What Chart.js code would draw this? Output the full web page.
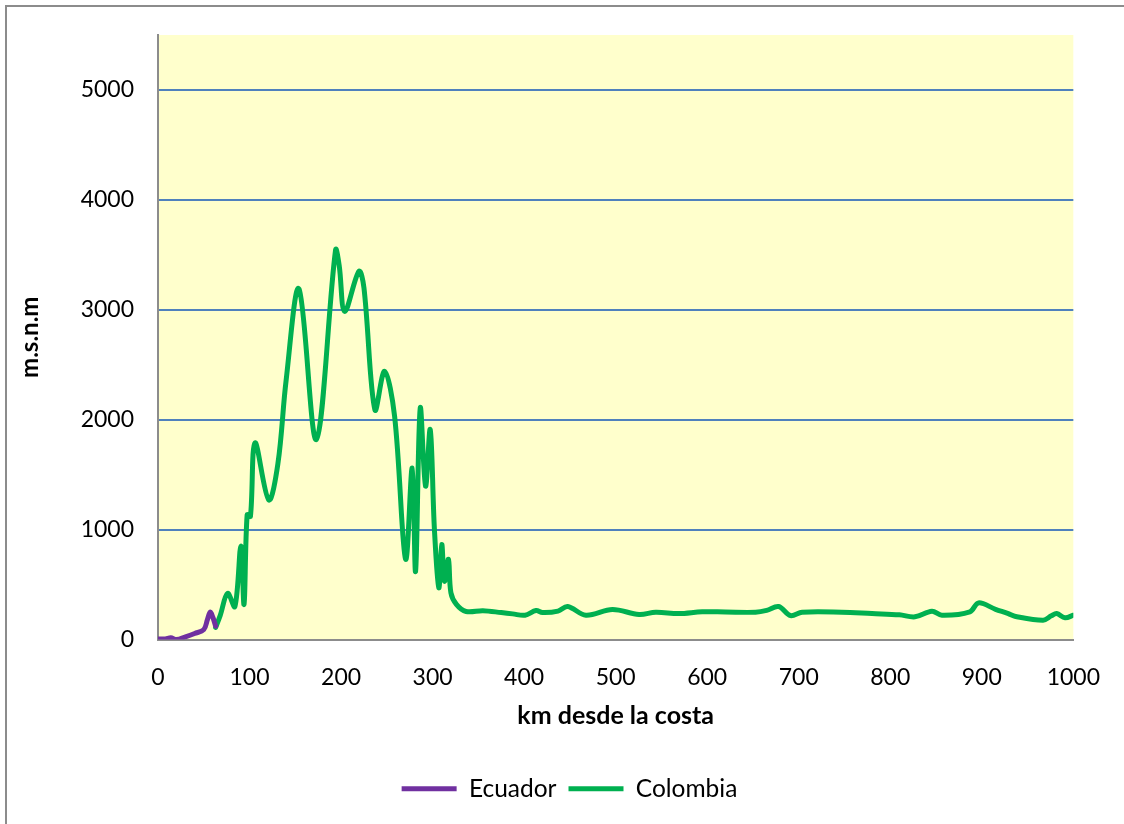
<!DOCTYPE html>
<html>
<head>
<meta charset="utf-8">
<script src="https://cdn.jsdelivr.net/npm/chart.js@4/dist/chart.umd.min.js"></script>
<style>
html,body{margin:0;padding:0;background:#fff;}
#wrap{position:relative;width:1124px;height:824px;overflow:hidden;}
#frame{position:absolute;left:5px;top:5px;width:1130px;height:830px;border:2px solid #8c8c8c;box-sizing:border-box;}
canvas{position:absolute;left:0;top:0;}
</style>
</head>
<body>
<div id="wrap">
<div id="frame"></div>
<canvas id="c" width="1124" height="824"></canvas>
</div>
<script>
const seriesNames = ["Ecuador", "Colombia"];
const ecuadorKm  = [0, 8, 14, 20, 30, 40, 50, 54, 57, 60, 63];
const ecuadorMsnm = [5, 5, 15, 0, 25, 55, 90, 180, 250, 200, 120];

const colombiaKm = [63, 68, 76, 84, 90.5, 94, 97.4, 101, 106, 121, 131, 140, 154, 173, 194, 198, 204, 219.5, 225, 237, 247.5, 258.5, 270.5, 277.7, 281.4, 286.5, 292.3, 297.4, 302, 306.8, 310, 313, 317.3, 320, 326, 336.6, 355, 375, 387.5, 401, 413, 420, 437, 447.5, 467.5, 496.5, 525.6, 543.8, 569, 594.6, 620, 652.8, 665, 678, 691, 703.7, 747, 780, 810, 827, 845.5, 856.4, 887, 896.4, 915, 929, 936, 967, 976, 981.8, 991, 1000];
const colombiaMsnm = [110, 220, 420, 300, 850, 320, 1135, 1120, 1790, 1270, 1600, 2360, 3190, 1820, 3545, 3400, 2985, 3350, 3200, 2090, 2440, 2030, 730, 1560, 620, 2105, 1395, 1910, 1000, 470, 865, 530, 730, 425, 320, 255, 262, 245, 233, 221, 264, 245, 258, 300, 221, 273, 227, 248, 236, 252, 250, 248, 265, 300, 218, 248, 248, 236, 225, 206, 258, 221, 252, 333, 275, 236, 212, 176, 215, 236, 197, 221];

const xTicks = [0, 100, 200, 300, 400, 500, 600, 700, 800, 900, 1000];
const yTicks = [0, 1000, 2000, 3000, 4000, 5000];

const FONT = "Lato, 'Open Sans', sans-serif";

const bgPlugin = {
  id: 'plotBg',
  beforeDraw(chart) {
    const a = chart.chartArea, ctx = chart.ctx;
    ctx.save();
    ctx.fillStyle = '#FFFFCC';
    ctx.fillRect(a.left, a.top, a.right - a.left, a.bottom - a.top);
    ctx.restore();
  }
};

const legendShift = {
  id: 'legendShift',
  afterLayout(chart) {
    const l = chart.legend;
    if (l) { l.left += 26; l.right += 26; l.top += 30; l.bottom += 30; }
  }
};

new Chart(document.getElementById('c'), {
  type: 'line',
  data: {
    datasets: [
      {
        label: seriesNames[0],
        data: ecuadorKm.map((x, i) => ({x, y: ecuadorMsnm[i]})),
        borderColor: '#7030A0',
        backgroundColor: '#7030A0',
        borderWidth: 5,
        borderCapStyle: 'round',
        pointRadius: 0,
        tension: 0.35,
        fill: false
      },
      {
        label: seriesNames[1],
        data: colombiaKm.map((x, i) => ({x, y: colombiaMsnm[i]})),
        borderColor: '#00B050',
        backgroundColor: '#00B050',
        borderWidth: 5,
        borderCapStyle: 'round',
        pointRadius: 0,
        tension: 0.35,
        fill: false
      }
    ]
  },
  plugins: [bgPlugin, legendShift],
  options: {
    responsive: false,
    animation: false,
    layout: { padding: { left: 12, right: 49, top: 35, bottom: 43 } },
    plugins: {
      legend: {
        position: 'bottom',
        labels: {
          usePointStyle: true,
          pointStyle: 'line',
          pointStyleWidth: 55,
          boxHeight: 10,
          padding: 12,
          color: '#000',
          font: { family: FONT, size: 24.5 }
        }
      },
      tooltip: { enabled: false }
    },
    scales: {
      x: {
        type: 'linear',
        min: 0, max: 1000,
        afterBuildTicks(s) { s.ticks = xTicks.map(v => ({value: v})); },
        afterFit(s) { s.height = 95; },
        grid: { display: false, drawTicks: false },
        border: { display: true, color: '#8c8c8c', width: 2 },
        ticks: { color: '#000', padding: 24, maxRotation: 0, font: { family: FONT, size: 23 }, callback: (v) => String(v) },
        title: { display: true, text: 'km desde la costa', color: '#000', padding: { top: 8 }, font: { family: FONT, size: 25, weight: 'bold' } }
      },
      y: {
        min: 0, max: 5500,
        afterBuildTicks(s) { s.ticks = yTicks.map(v => ({value: v})); },
        afterFit(s) { s.width = 146; s.paddingTop = 0; s.paddingBottom = 0; },
        grid: {
          drawTicks: false,
          color: (c) => c.tick && c.tick.value === 0 ? 'rgba(0,0,0,0)' : '#4F81BD',
          lineWidth: 2
        },
        border: { display: true, color: '#8c8c8c', width: 2 },
        ticks: { color: '#000', padding: 24, font: { family: FONT, size: 23 }, callback: (v) => String(v) },
        title: { display: true, text: 'm.s.n.m', color: '#000', padding: 4, font: { family: FONT, size: 24, weight: 'bold' } }
      }
    }
  }
});
</script>
</body>
</html>
